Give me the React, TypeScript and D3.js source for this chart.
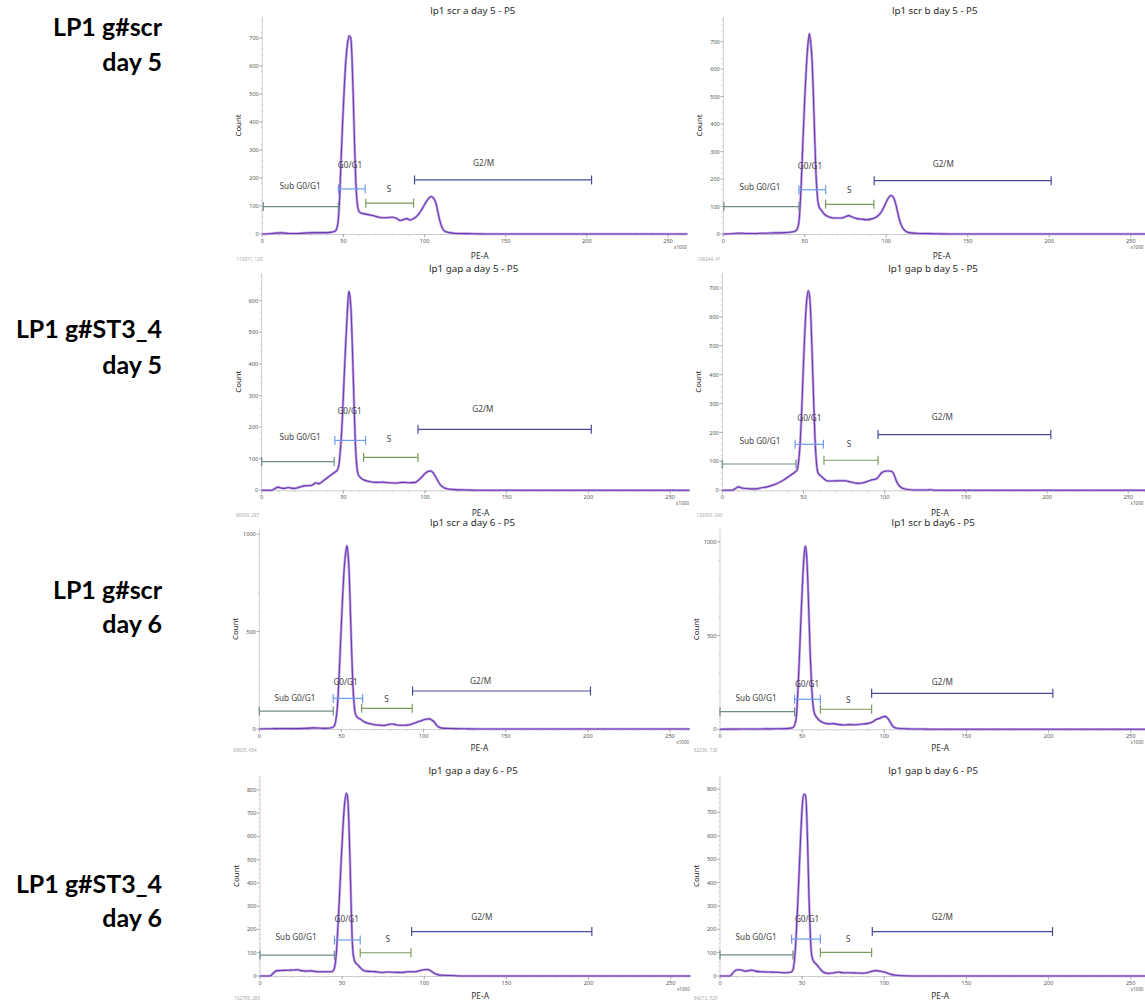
import React from "react";
import * as d3 from "d3";

// ---------- DATA ----------
const rowLabels: string[][] = [
  ["LP1 g#scr", "day 5"],
  ["LP1 g#ST3_4", "day 5"],
  ["LP1 g#scr", "day 6"],
  ["LP1 g#ST3_4", "day 6"],
];

const titles = [
  "lp1 scr a day 5 - P5",
  "lp1 scr b day 5 - P5",
  "lp1 gap a day 5 - P5",
  "lp1 gap b day 5 - P5",
  "lp1 scr a day 6 - P5",
  "lp1 scr b day6 - P5",
  "lp1 gap a day 6 - P5",
  "lp1 gap b day 6 - P5",
];

const footers = [
  "113871, 128",
  "169244, 41",
  "96009, 297",
  "130393, 240",
  "89605, 454",
  "82236, 738",
  "102795, 289",
  "84213, 525",
];

const yMaxes = [775, 790, 688, 752, 1026, 1068, 860, 856];
const yTickSteps = [100, 100, 100, 100, 500, 500, 100, 100];
const yMinorSteps = [20, 20, 20, 20, 100, 100, 20, 20];
const xDomainMax = 262;
const xTickValues = [0, 50, 100, 150, 200, 250];
const gateNames = ["Sub G0/G1", "G0/G1", "S", "G2/M"];

// histograms: [PE-A (x1000), count]
const scrA5: number[][] = [[0,0],[4,1],[8,3],[12,4],[16,2],[22,2],[28,4],[34,5],[40,5],[44,8],[45.5,14],[46.5,35],[47.5,110],[48.5,260],[49.5,400],[50.5,520],[51.5,620],[52.5,680],[53.5,708],[54.5,700],[55.2,640],[56,500],[56.8,330],[57.6,190],[58.5,110],[59.5,82],[61,74],[64,71],[68,66],[72,60],[76,58],[80,60],[83,55],[85,48],[87,52],[89,55],[91,50],[93,54],[96,68],[99,95],[101,115],[103,130],[104,134],[105.5,128],[107,110],[108.5,70],[110,35],[112,12],[115,5],[120,2],[130,1],[140,0],[262,0]];
const scrB5: number[][] = [[0,0],[5,1],[9,3],[14,2],[20,2],[26,3],[32,4],[38,5],[42,7],[44.5,12],[45.8,25],[46.8,70],[47.8,180],[48.8,330],[49.8,470],[50.8,590],[51.8,680],[52.8,730],[53.6,700],[54.4,640],[55.2,520],[56,370],[56.8,230],[57.7,140],[58.7,100],[60,88],[62,72],[65,62],[68,58],[72,58],[75,63],[77,67],[79,62],[82,56],[85,54],[88,52],[91,55],[94,62],[97,80],[99.5,110],[101.5,133],[103,140],[104.5,132],[106,105],[107.5,65],[109,35],[111,15],[114,5],[120,2],[130,1],[140,0],[262,0]];
const gapA5: number[][] = [[0,0],[6,0],[8,5],[10,10],[12,7],[14,6],[16,9],[18,7],[20,6],[23,10],[26,14],[30,15],[32,20],[33,24],[35,21],[37,27],[39,35],[41,43],[43,51],[45,58],[46.5,66],[47.5,90],[48.5,150],[49.5,240],[50.5,360],[51.5,470],[52.5,570],[53.3,630],[54,615],[54.8,560],[55.6,440],[56.4,300],[57.2,170],[58,90],[59,52],[60.5,40],[62,34],[66,28],[70,25],[74,26],[78,24],[82,23],[86,25],[90,24],[94,25],[96,32],[98,42],[100,53],[102,60],[103.5,61],[105,55],[107,38],[109,20],[111,10],[114,4],[118,2],[125,1],[135,0],[262,0]];
const gapB5: number[][] = [[0,0],[6,0],[8,6],[10,12],[12,8],[15,6],[18,5],[21,5],[24,9],[27,11],[30,16],[33,22],[36,30],[39,40],[42,52],[44,60],[46,70],[47,100],[48,170],[49,290],[50,440],[51,570],[52,660],[53,690],[53.8,670],[54.6,590],[55.4,460],[56.2,320],[57,190],[58,95],[59,60],[61,48],[63,38],[65,32],[68,32],[72,33],[76,33],[78,30],[80,28],[83,24],[86,25],[89,30],[92,36],[95,40],[98,60],[100,66],[102,67],[104,66],[105.5,58],[107,35],[109,15],[111,7],[114,3],[120,1],[126,1],[128,2],[131,0],[262,0]];
const scrA6: number[][] = [[0,0],[5,1],[10,2],[20,2],[28,3],[33,6],[36,5],[40,3],[44,6],[45.5,14],[46.5,40],[47.5,110],[48.5,260],[49.5,450],[50.5,640],[51.5,800],[52.5,900],[53.3,940],[54,900],[54.8,780],[55.5,590],[56.2,400],[57,220],[57.8,120],[58.6,75],[60,58],[62,48],[64,36],[67,28],[70,22],[73,20],[76,18],[79,24],[81,26],[83,22],[86,19],[90,20],[93,26],[96,35],[99,44],[101.5,50],[103.5,52],[105,46],[106.5,36],[108,18],[110,7],[113,3],[118,2],[125,1],[132,0],[262,0]];
const scrB6: number[][] = [[0,0],[5,1],[15,2],[25,2],[35,3],[42,5],[44.5,10],[45.5,25],[46.5,70],[47.5,220],[48.5,420],[49.5,640],[50.5,830],[51.3,940],[52,977],[52.7,930],[53.4,800],[54.2,590],[55,380],[55.8,230],[56.6,130],[57.5,85],[59,62],[61,44],[63,35],[66,29],[69,30],[72,26],[75,23],[79,25],[83,24],[87,28],[91,33],[93,40],[95,52],[97,58],[99,66],[100.5,69],[102,60],[103.5,40],[105,18],[107,7],[110,4],[116,2],[125,1],[132,0],[262,0]];
const gapA6: number[][] = [[0,0],[6,0],[7.5,8],[9,18],[10.5,23],[14,24],[18,25],[21,26],[23,27],[25,23],[28,21],[31,22],[35,18],[39,18],[43,18],[44.5,22],[45.5,40],[46.5,100],[47.5,220],[48.5,360],[49.5,510],[50.5,640],[51.5,740],[52.5,786],[53.3,770],[54,680],[54.7,520],[55.4,330],[56,180],[56.8,90],[58,58],[59.5,48],[61,36],[63,24],[66,20],[70,19],[74,15],[78,17],[82,16],[86,15],[90,18],[94,18],[97,23],[100,27],[102,28],[104,22],[106,12],[108,6],[111,3],[116,2],[124,0],[262,0]];
const gapB6: number[][] = [[0,0],[6,0],[7.5,10],[9,22],[11,27],[13,26],[15,21],[17,22],[19,25],[21,22],[25,18],[30,17],[35,16],[40,14],[43,16],[44.3,25],[45.2,60],[46.2,150],[47.2,290],[48.2,450],[49.2,610],[50.2,740],[51,778],[52,775],[52.8,690],[53.5,520],[54.2,330],[55,170],[55.8,90],[57,63],[59,48],[61,30],[63,16],[66,11],[69,13],[72,17],[75,14],[79,14],[83,13],[87,12],[90,15],[93,21],[95,23],[97,21],[100,17],[102,12],[104,7],[107,3],[112,1],[120,0],[262,0]];

const histograms = [scrA5, scrB5, gapA5, gapB5, scrA6, scrB6, gapA6, gapB6];

// gates: [start, end, count level] for Sub G0/G1, G0/G1, S, G2/M
const gatesScrA5 = [[0.6, 46.9, 98], [46.9, 63.4, 161], [63.8, 93.2, 110], [93.8, 202.9, 193]];
const gatesScrB5 = [[0.4, 46.4, 100], [46.4, 62.8, 161], [62.8, 92.4, 108], [92.6, 201.2, 194]];
const gatesGapA5 = [[0, 44.4, 91], [44.8, 63.6, 158], [62.4, 95.7, 104], [95.7, 201.8, 193]];
const gatesGapB5 = [[0, 45.4, 91], [44.8, 62.2, 159], [62.6, 95.9, 104], [95.9, 202.3, 193]];
const gatesScrA6 = [[0, 45, 92], [45, 62.9, 157], [62.3, 93.1, 106], [93.3, 201.6, 195]];
const gatesScrB6 = [[0, 45.4, 94], [45.4, 61.1, 160], [61.1, 92.3, 107], [92.3, 202.6, 192]];
const gatesGapA6 = [[0, 45.3, 90], [45.3, 61, 155], [61, 91.9, 100], [92.3, 202, 191]];
const gatesGapB6 = [[0, 44.4, 90], [43.6, 61.1, 158], [61.1, 92.3, 101], [92.7, 202.4, 190]];
const gates = [gatesScrA5, gatesScrB5, gatesGapA5, gatesGapB5, gatesScrA6, gatesScrB6, gatesGapA6, gatesGapB6];

// gate label anchors: [PE-A, count]
const labelsScrA5 = [[23.3, 170], [54, 247], [78, 160], [136.4, 255]];
const labelsScrB5 = [[22.5, 171], [53.2, 248], [77.3, 161], [135, 255]];
const labelsGapA5 = [[23.5, 170], [53.8, 251], [78, 162], [135.4, 257]];
const labelsGapB5 = [[23.2, 170], [53.6, 249], [78, 161], [135.5, 255]];
const labelsScrA6 = [[21.7, 161], [52.5, 243], [77.5, 152], [134.7, 248]];
const labelsScrB6 = [[22, 165], [53, 242], [78, 155], [135.4, 250]];
const labelsGapA6 = [[22, 166], [52.8, 244], [77.8, 158], [135, 255]];
const labelsGapB6 = [[22, 165], [53, 245], [78, 158], [135.4, 254]];
const gateLabels = [labelsScrA5, labelsScrB5, labelsGapA5, labelsGapB5, labelsScrA6, labelsScrB6, labelsGapA6, labelsGapB6];

// ---------- LAYOUT / STYLE ----------
const panelLayout = [
  { x0: 262.3, x250: 668, top: 17, base: 234 },
  { x0: 723.3, x250: 1130.7, top: 17, base: 234 },
  { x0: 261.7, x250: 670, top: 273, base: 490.3 },
  { x0: 722.3, x250: 1128.3, top: 273, base: 490.3 },
  { x0: 259.3, x250: 670, top: 529, base: 729 },
  { x0: 720, x250: 1130.7, top: 529, base: 729.3 },
  { x0: 260, x250: 670.7, top: 776, base: 976 },
  { x0: 720, x250: 1130.7, top: 776, base: 976 },
];
const titleY = [14, 14, 272, 272, 526, 526, 774, 774];
const axisTitleOffset = [25, 25, 25.5, 25.5, 21.5, 21.5, 23, 23];
const footerOffset = [27, 27, 27, 27, 23, 23, 23.5, 23.5];
const rowLabelY = [[36, 71], [338, 374], [599, 633], [893, 927]];
const gateColors = ["#6e8c8a", "#6f9bef", "#7c9a5c", "#474a9a"];
const panelFont = "'Noto Sans', 'Open Sans', sans-serif";

function Panel({ i }: { i: number }) {
  const L = panelLayout[i];
  const x = d3.scaleLinear().domain([0, 250]).range([L.x0, L.x250]);
  const y = d3.scaleLinear().domain([0, yMaxes[i]]).range([L.base, L.top]);
  const xRight = x(xDomainMax);
  const line = d3
    .line<number[]>()
    .x((d) => x(d[0]))
    .y((d) => y(d[1]))
    .curve(d3.curveMonotoneX);
  const path = line(histograms[i]) || "";
  const yMajor = d3.range(0, yMaxes[i] + 1, yTickSteps[i]);
  const yMinor = d3.range(0, yMaxes[i] + 1, yMinorSteps[i]);
  const xMinor = d3.range(0, xDomainMax + 1, 10);
  const titleX = (x(0) + x(xDomainMax)) / 2 - 2;
  return (
    <g fontFamily={panelFont}>
      <text x={titleX} y={titleY[i]} textAnchor="middle" fontSize={9.8} fill="#2b2b2b">
        {titles[i]}
      </text>
      {/* y axis */}
      <line x1={L.x0} x2={L.x0} y1={L.top} y2={L.base} stroke="#cfcfcf" strokeWidth={1} />
      {yMinor.map((v) => (
        <line key={"ym" + v} x1={L.x0 - 1.5} x2={L.x0} y1={y(v)} y2={y(v)} stroke="#bbb" strokeWidth={0.6} />
      ))}
      {yMajor.map((v) => (
        <g key={"yM" + v}>
          <line x1={L.x0 - 3} x2={L.x0} y1={y(v)} y2={y(v)} stroke="#999" strokeWidth={0.7} />
          <text x={L.x0 - 3.5} y={y(v) + 2} textAnchor="end" fontSize={5.6} fill="#555">
            {v}
          </text>
        </g>
      ))}
      <text
        transform={`translate(${L.x0 - 21},${(L.top + L.base) / 2}) rotate(-90)`}
        textAnchor="middle"
        fontSize={7.8}
        fill="#222"
      >
        Count
      </text>
      {/* x axis */}
      <line x1={L.x0} x2={xRight} y1={L.base + 0.5} y2={L.base + 0.5} stroke="#cfcfcf" strokeWidth={1} />
      {xMinor.map((v) => (
        <line key={"xm" + v} x1={x(v)} x2={x(v)} y1={L.base} y2={L.base + 2} stroke="#bbb" strokeWidth={0.6} />
      ))}
      {xTickValues.map((v) => (
        <g key={"xM" + v}>
          <line x1={x(v)} x2={x(v)} y1={L.base} y2={L.base + 3.5} stroke="#999" strokeWidth={0.7} />
          <text x={x(v)} y={L.base + 8.5} textAnchor="middle" fontSize={5.6} fill="#555">
            {v}
          </text>
        </g>
      ))}
      <text x={Math.min(xRight - 7, 1137)} y={L.base + 14.5} textAnchor="middle" fontSize={4.6} fill="#555">
        x1000
      </text>
      <text x={x(134)} y={L.base + axisTitleOffset[i]} textAnchor="middle" fontSize={8.4} fill="#333">
        PE-A
      </text>
      <text x={L.x0 - 26} y={L.base + footerOffset[i]} textAnchor="start" fontSize={4.6} fill="#aaa">
        {footers[i]}
      </text>
      {/* histogram */}
      <path d={path} fill="none" stroke="#bea5e0" strokeWidth={2.6} strokeLinejoin="round" />
      <path d={path} fill="none" stroke="#6c38b4" strokeWidth={1.1} strokeLinejoin="round" />
      {/* gates */}
      {gates[i].map((g, k) => (
        <g key={"g" + k} stroke={gateColors[k]} strokeWidth={1.2}>
          <line x1={x(g[0])} x2={x(g[1])} y1={y(g[2])} y2={y(g[2])} />
          <line x1={x(g[0])} x2={x(g[0])} y1={y(g[2]) - 4.5} y2={y(g[2]) + 4.5} />
          <line x1={x(g[1])} x2={x(g[1])} y1={y(g[2]) - 4.5} y2={y(g[2]) + 4.5} />
        </g>
      ))}
      {gateLabels[i].map((p, k) => (
        <text key={"l" + k} x={x(p[0])} y={y(p[1]) + 3} textAnchor="middle" fontSize={8.2} fill="#444">
          {gateNames[k]}
        </text>
      ))}
    </g>
  );
}

export default function App() {
  return (
    <svg
      width={1145}
      height={1000}
      style={{ position: "absolute", left: 0, top: 0, background: "#fff" }}
    >
      <rect width={1145} height={1000} fill="#fff" />
      {rowLabels.map((r, k) => (
        <g key={"r" + k} fontFamily="Lato, 'Open Sans', sans-serif" fontWeight={700} fontSize={25} fill="#000">
          <text x={162} y={rowLabelY[k][0]} textAnchor="end">
            {r[0]}
          </text>
          <text x={162} y={rowLabelY[k][1]} textAnchor="end">
            {r[1]}
          </text>
        </g>
      ))}
      {titles.map((_, i) => (
        <Panel key={i} i={i} />
      ))}
    </svg>
  );
}
